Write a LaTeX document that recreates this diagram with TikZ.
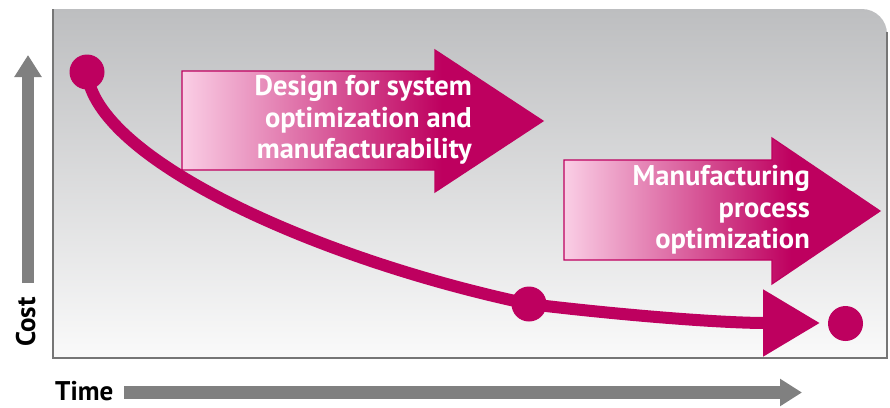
\documentclass[tikz,border=0pt]{standalone}
\usepackage{fontspec}
\setmainfont{PT Sans}
\usetikzlibrary{arrows.meta}
\definecolor{mag}{RGB}{190,0,95}
\definecolor{pinkL}{RGB}{250,206,229}
\definecolor{panelTop}{RGB}{189,190,192}
\definecolor{panelBot}{RGB}{250,250,250}
\definecolor{frameGray}{RGB}{118,118,118}
\definecolor{axisGray}{RGB}{128,128,128}
\pgfdeclarehorizontalshading{pinkgrad}{100bp}{color(0bp)=(pinkL); color(25bp)=(pinkL); color(61bp)=(mag); color(100bp)=(mag)}
\tikzset{
  dot/.style={circle, fill=mag, minimum size=35pt, inner sep=0pt},
  pinkarrow/.style={shading=pinkgrad, draw=mag, line width=1.2pt},
  boxtext/.style={text=white, font=\fontsize{28.5}{31.5}\selectfont\bfseries, align=right, inner sep=0pt},
  axislabel/.style={text=black, font=\fontsize{27}{30}\selectfont\bfseries, inner sep=0pt},
  axisarrow/.style={draw=axisGray, line width=12.5pt, -{Triangle[length=22pt,width=26pt]}},
  costcurve/.style={draw=mag, line width=12pt}
}
\begin{document}
\begin{tikzpicture}[x=1pt, y=-1pt]
\useasboundingbox (0,0) rectangle (890,407);
% panel
\shade[top color=panelTop, bottom color=panelBot]
  (53,358) -- (53,9) -- (862,9) arc[start angle=-90, end angle=0, radius=25] -- (887,358) -- cycle;
\draw[frameGray, line width=2pt] (53,9) -- (53,358) -- (887,358) -- (887,32);
% axes
\coordinate (cb) at (28,283);
\coordinate (ct) at (28,55);
\draw[axisarrow] (cb) -- (ct);
\coordinate (tl) at (124,392.5);
\coordinate (tr) at (802,392.5);
\draw[axisarrow] (tl) -- (tr);
\node[axislabel, rotate=90, anchor=base west] (cost) at (35,347) {Cost};
\node[axislabel, anchor=base west] (time) at (55,400) {Time};
% pink arrows
\shade[pinkarrow] (182,71) -- (435,71) -- (435,50) -- (543,121) -- (435,192) -- (435,170) -- (182,170) -- cycle;
\node[boxtext, anchor=east] (t1) at (472,120) {Design for system\\optimization and\\manufacturability};
\shade[pinkarrow] (564,160) -- (772,160) -- (772,138) -- (880,211) -- (772,284) -- (772,260) -- (564,260) -- cycle;
\node[boxtext, anchor=east] (t2) at (810,210) {Manufacturing\\process\\optimization};
% curve
\node[dot] (s) at (87,72) {};
\node[dot] (m) at (529,304) {};
\node[dot] (f) at (845.5,323.5) {};
\coordinate (e) at (820,323);
\draw[costcurve] (s.center) .. controls (95,160) and (320,260) .. (m.center);
\draw[costcurve, -{Triangle[length=57pt,width=64pt]}] (m.center) .. controls (620,315) and (720,323) .. (e);
\end{tikzpicture}
\end{document}
